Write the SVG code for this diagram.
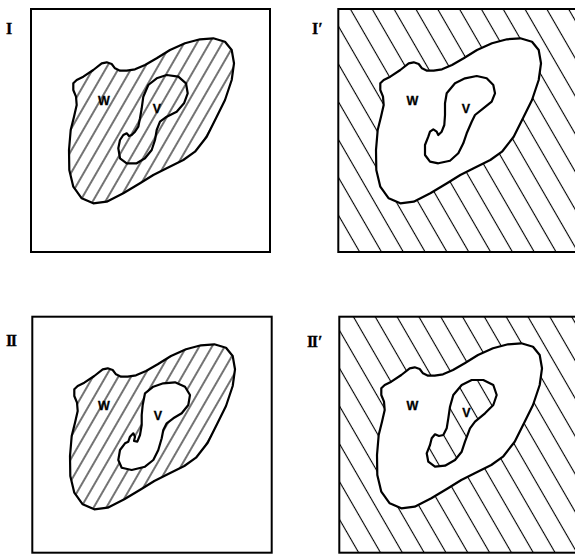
<svg xmlns="http://www.w3.org/2000/svg" width="575" height="554" viewBox="0 0 575 554">
<style>
.box{fill:none;stroke:#000;stroke-width:2}
.out{stroke:#000;stroke-width:2.2;stroke-linejoin:round}
.lbl{font-family:"Liberation Serif",serif;font-weight:bold;font-size:16px;fill:#000;stroke:#000;stroke-width:0.3}
.set{font-family:"Liberation Sans",sans-serif;font-weight:bold;font-size:12.5px;fill:#000;stroke:#000;stroke-width:0.3;text-anchor:middle}
</style>
<defs>
<pattern id="hA" patternUnits="userSpaceOnUse" width="11" height="20" patternTransform="rotate(30)">
<line x1="5" y1="-1" x2="5" y2="21" stroke="#000" stroke-width="1.1"/>
</pattern>
<pattern id="hB" patternUnits="userSpaceOnUse" width="18.9" height="20" patternTransform="rotate(-30)">
<line x1="15.4" y1="-1" x2="15.4" y2="21" stroke="#000" stroke-width="1.1"/>
</pattern>
<path id="W" d="M73.3,83.3 L76.7,80 L83.3,76.7 L93.3,70 L101.7,63.3 L106.7,62.3 L111.7,64 L115,68.3 L120,70.7 L126.7,70.7 L135,69.3 L145,65 L156.7,58.3 L170,50 L185,43.3 L200,39.3 L213.3,38.3 L225,41.7 L231.7,50 L234,63.3 L231.7,80 L225,100 L216.7,116.7 L206.7,136.7 L195,151.7 L183.3,160 L166.7,168.3 L153.3,175 L140,183.3 L123.3,193.3 L106.7,201.7 L93.3,203.3 L81.7,198.3 L73.3,186.7 L69.3,170 L69,150 L70.7,130 L74,116.7 L76.7,105 L76,96.7 L73.3,90 Z"/>
</defs>

<g id="panel-I">
<rect class="box" x="31" y="9" width="239" height="243"/>
<use href="#W" class="out" fill="url(#hA)"/>
<path class="out" fill="none" d="M148.3,85 L156.7,78.3 L166.7,75 L178.3,76.7 L186,83.3 L187.7,93.3 L184,103.3 L176.7,111.7 L166.7,116.7 L160,121.7 L156.7,130 L155,140 L151.7,150 L145,158.3 L136.7,163.3 L126.7,163.3 L120,158.3 L118.3,148.3 L120,140 L123.3,135 L126.7,133.3 L129,136 L131.7,135 L135,131.7 L138.3,126.7 L140,118.3 L141.7,108.3 L143.3,96.7 Z"/>
<text class="lbl" x="6" y="34">I</text>
<text class="set" x="104" y="105">W</text>
<text class="set" x="157" y="113">V</text>
</g>

<g id="panel-I-prime">
<rect x="338.3" y="9" width="250" height="243" fill="url(#hB)"/>
<rect class="box" x="338.3" y="9" width="250" height="243"/>
<use href="#W" class="out" fill="#fff" transform="translate(307,0)"/>
<path class="out" fill="none" d="M446.7,93.3 L455,83.3 L465,78.3 L476.7,76 L486.7,78.3 L493.3,85 L495,93.3 L491.7,101.7 L483.3,108.3 L475,115 L471.7,121.7 L466.7,133.3 L463.3,143.3 L458.3,153.3 L450,160.7 L438.3,163.3 L430,161.7 L425,155 L425,145 L428.3,136.7 L430,131.7 L433.3,129.3 L436.7,131.7 L438.3,135 L441.7,131.7 L444.3,125 L445,115 L445,103.3 Z"/>
<text class="lbl" x="312" y="34">I′</text>
<text class="set" x="412.5" y="105">W</text>
<text class="set" x="466" y="113">V</text>
</g>

<g id="panel-II">
<rect class="box" x="32.3" y="316.7" width="239.4" height="236"/>
<use href="#W" class="out" fill="url(#hA)" transform="translate(1,306)"/>
<path class="out" fill="#fff" d="M145,393.3 L153.3,386.7 L163.3,383.3 L175,382.3 L185,386.7 L190,395 L188.3,405 L181.7,413.3 L173.3,418.3 L166.7,423.3 L163.3,430 L161.7,438.3 L158.3,450 L153.3,460 L145,466.7 L131.7,470 L121.7,467.7 L118.3,460 L120,450 L125,443.3 L128.3,441.7 L130,436.7 L133.3,433.3 L135,436.7 L134,441 L137.3,441.7 L140,435 L141.7,425 L141.7,415 L142.7,405 Z"/>
<text class="lbl" x="6" y="346" letter-spacing="-1.5">II</text>
<text class="set" x="104" y="410">W</text>
<text class="set" x="158" y="420">V</text>
</g>

<g id="panel-II-prime">
<rect x="339.3" y="316.7" width="250" height="236" fill="url(#hB)"/>
<rect class="box" x="339.3" y="316.7" width="250" height="236"/>
<use href="#W" class="out" fill="#fff" transform="translate(308,305)"/>
<path class="out" fill="url(#hB)" d="M453.3,395 L461.7,385 L471.7,380 L483.3,380 L493.3,385 L496.7,395 L493.3,405 L485,413.3 L475,421.7 L470,428.3 L465,441.7 L461.7,451.7 L455,460 L445,465.7 L435,466.7 L428.3,461.7 L426.7,453.3 L430,445 L431.7,438.3 L435,434.3 L439,436 L443.3,435 L446.7,428.3 L448.3,418.3 L450,406.7 Z"/>
<text class="lbl" x="307" y="347"><tspan letter-spacing="-1.5">II</tspan><tspan dx="1.5">′</tspan></text>
<text class="set" x="412.5" y="410">W</text>
<text class="set" x="466.5" y="416.5">V</text>
</g>
</svg>
